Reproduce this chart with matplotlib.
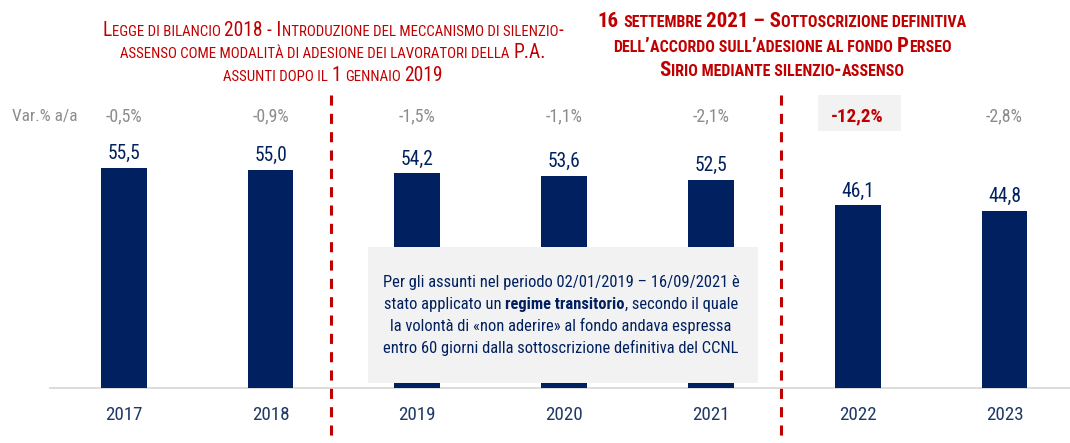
import matplotlib
matplotlib.use('Agg')
import matplotlib.pyplot as plt
from matplotlib.transforms import IdentityTransform
from matplotlib.patches import Rectangle
from matplotlib import font_manager

# ---------------- data ----------------
years = ['2017', '2018', '2019', '2020', '2021', '2022', '2023']
values = [55.5, 55.0, 54.2, 53.6, 52.5, 46.1, 44.8]
value_labels = ['55,5', '55,0', '54,2', '53,6', '52,5', '46,1', '44,8']
yoy_labels = ['-0,5%', '-0,9%', '-1,5%', '-1,1%', '-2,1%', '-12,2%', '-2,8%']
highlight_idx = 5
yoy_title = 'Var.% a/a'

title1_lines = ['Legge di bilancio 2018 - Introduzione del meccanismo di silenzio-',
                'assenso come modalità di adesione dei lavoratori della P.A.',
                'assunti dopo il 1 gennaio 2019']
title2_lines = ['16 settembre 2021 – Sottoscrizione definitiva',
                'dell’accordo sull’adesione al fondo Perseo',
                'Sirio mediante silenzio-assenso']
box_lines = [[('Per gli assunti nel periodo 02/01/2019 – 16/09/2021 è', 'normal')],
             [('stato applicato un ', 'normal'), ('regime transitorio', 'bold'),
              (', secondo il quale', 'normal')],
             [('la volontà di «non aderire» al fondo andava espressa', 'normal')],
             [('entro 60 giorni dalla sottoscrizione definitiva del CCNL', 'normal')]]

# ---------------- fonts ----------------
_fl = font_manager.fontManager.ttflist
_reg = {f.name for f in _fl if f.weight in (400, 'normal', 'regular')}
_bold = {f.name for f in _fl if f.weight in (700, 'bold')}
prefs = ['Arial Narrow', 'Liberation Sans Narrow', 'Nimbus Sans Narrow', 'Roboto Condensed',
         'Archivo Narrow', 'PT Sans Narrow', 'Fira Sans Condensed', 'Liberation Sans']
FONT = next(p for p in prefs if p in _reg and p in _bold)
FAM = [FONT, 'DejaVu Sans']
plt.rcParams['font.family'] = FAM

NAVY = '#002060'
RED = '#C00000'
GRAY = '#8C8C8C'
YEARC = '#1F3864'

W, H = 1070, 443
fig = plt.figure(figsize=(W / 100, H / 100), dpi=100)
renderer = fig.canvas.get_renderer()
ID = IdentityTransform()

def text_w(s, size, weight='normal', family=None):
    t = fig.text(0, 0, s, fontsize=size, fontweight=weight, transform=ID,
                 family=family if family else FAM)
    w = t.get_window_extent(renderer).width
    t.remove()
    return w

# scale factor so chosen font matches Arial Narrow widths (= 0.82 * Arial/Liberation Sans)
_sample = 'Var.% a/a 55,5 2017 -0,5% stato applicato'
K = 0.82 * text_w(_sample, 10, family=['Liberation Sans']) / text_w(_sample, 10)

ax = fig.add_axes([0, 0, 1, 1])
x0, dx = 123.7, 146.8        # pixel center of first bar, spacing
base, ppu = 55.0, 3.959      # baseline pixel (from bottom), pixels per unit
ax.set_xlim(-x0 / dx, (W - x0) / dx)
ax.set_ylim(-base / ppu, (H - base) / ppu)
ax.axis('off')

def xd(px):
    return (px - x0) / dx

def yd(py_top):
    return (H - py_top - base) / ppu

xs = list(range(len(years)))
ax.bar(xs, values, width=0.313, color=NAVY, zorder=2)
ax.plot([xd(50), xd(W)], [0, 0], color='#D9D9D9', lw=1.3, zorder=1)

for i, (v, lab) in enumerate(zip(values, value_labels)):
    ax.annotate(lab, (i, v), xytext=(0, 9), textcoords='offset pixels',
                ha='center', va='baseline', fontsize=15 * K, color=NAVY)
    ax.annotate(years[i], (i, 0), xytext=(0, -32), textcoords='offset pixels',
                ha='center', va='baseline', fontsize=14.6 * K, color=YEARC)

ytr = ax.get_xaxis_transform()
for i, lab in enumerate(yoy_labels):
    if i == highlight_idx:
        fig.add_artist(Rectangle((818, H - 131), 83, 36, transform=ID,
                                 facecolor='#F2F2F2', edgecolor='none', zorder=1))
        fig.text(x0 + dx * i, H - 121.5, lab, transform=ID, ha='center', va='baseline',
                 fontsize=14.7 * K, color=RED, fontweight='bold', zorder=5)
    else:
        ax.text(i, (H - 121) / H, lab, transform=ytr, ha='center', va='baseline',
                fontsize=13.7 * K, color=GRAY)
fig.text(12, H - 121, yoy_title, transform=ID, ha='left',
         va='baseline', fontsize=13.2 * K, color=GRAY)

# dashed separators
for px in (331, 781):
    ax.plot([xd(px), xd(px)], [yd(95), yd(H + 5)], color=RED, lw=2.2,
            linestyle=(0, (3.3, 2.7)), zorder=3, dash_capstyle='butt')

# info box
fig.add_artist(Rectangle((368, H - 383), 390, 136, transform=ID,
                         facecolor='#F2F2F2', edgecolor='none', zorder=1))

_space_cache = {}

def space_w(size, weight):
    key = (round(size, 3), weight)
    if key not in _space_cache:
        _space_cache[key] = text_w('a a', size, weight) - text_w('aa', size, weight)
    return _space_cache[key]

def layout_runs(runs):
    items = []
    total = 0.0
    for s, size, weight in runs:
        lead = len(s) - len(s.lstrip(' '))
        trail = len(s) - len(s.rstrip(' '))
        core = s.strip(' ')
        sw = space_w(size, weight)
        w = text_w(core, size, weight) if core else 0.0
        items.append((core, size, weight, lead * sw, w, trail * sw))
        total += lead * sw + w + trail * sw
    return items, total

def draw_runs(runs, cx, y_top, color, zorder=3):
    items, total = layout_runs(runs)
    x = cx - total / 2
    for core, size, weight, l, w, r in items:
        x += l
        if core:
            fig.text(x, H - y_top, core, fontsize=size, fontweight=weight, color=color,
                     transform=ID, ha='left', va='baseline', zorder=zorder)
        x += w + r

def smallcaps(s, size, ratio=0.76, weight='normal'):
    runs = []
    cur, cur_small = '', None
    for ch in s:
        small = (cur_small if cur_small is not None else True) if ch == ' ' else ch.islower()
        c = ch.upper() if ch.islower() else ch
        if cur_small is None or small == cur_small:
            cur += c
            cur_small = small
        else:
            runs.append((cur, size * ratio if cur_small else size, weight))
            cur, cur_small = c, small
    if cur:
        runs.append((cur, size * ratio if cur_small else size, weight))
    return runs

def fit_size(make_runs, nominal, target_w):
    _, w = layout_runs(make_runs(nominal))
    return nominal * target_w / w

# title 1 (small caps), fitted to its first line's width
s1 = fit_size(lambda s: smallcaps(title1_lines[0], s), 13.3, 460)
for k, line in enumerate(title1_lines):
    draw_runs(smallcaps(line, s1), 333, 36 + 22.5 * k, RED)

# title 2 (bold small caps)
s2 = fit_size(lambda s: smallcaps(title2_lines[0], s, weight='bold'), 14, 369)
for k, line in enumerate(title2_lines):
    draw_runs(smallcaps(line, s2, weight='bold'), 782, 27.3 + 24.3 * k, RED)

# box text
sb = fit_size(lambda s: [(t, s, w) for t, w in box_lines[0]], 13.2, 359)
for k, line in enumerate(box_lines):
    draw_runs([(t, sb, w) for t, w in line], 561, 286.7 + 22 * k, NAVY)

fig.savefig('out.png', dpi=100)
